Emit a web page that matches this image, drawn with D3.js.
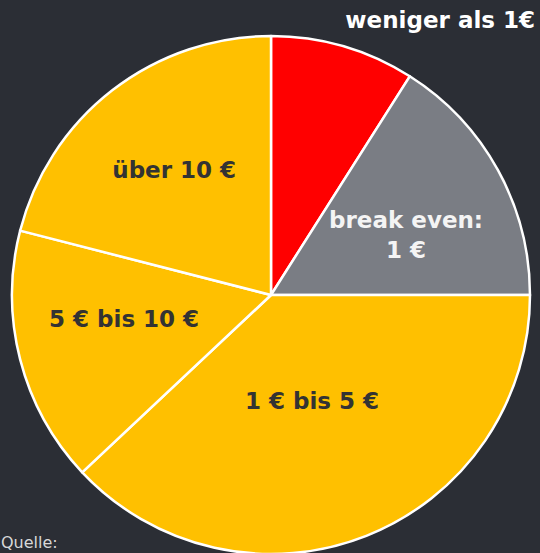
<!DOCTYPE html>
<html>
<head>
<meta charset="utf-8">
<script src="https://cdn.jsdelivr.net/npm/d3@7"></script>
<style>
  html, body { margin: 0; padding: 0; background: #2b2e35; }
  svg { display: block; }
  text { font-family: "DejaVu Sans", Verdana, sans-serif; }
</style>
</head>
<body>
<svg id="chart" width="540" height="553"></svg>
<script>
const categories = ["weniger als 1€", "break even: 1 €", "1 € bis 5 €", "5 € bis 10 €", "über 10 €"];
const values = [9, 16, 38, 16, 21];
const colors = ["#ff0000", "#7a7d84", "#ffc000", "#ffc000", "#ffc000"];
const labelLines = [[], ["break even:", "1 €"], ["1 € bis 5 €"], ["5 € bis 10 €"], ["über 10 €"]];
const labelColors = ["#ffffff", "#f4f4f4", "#333333", "#333333", "#333333"];

const svg = d3.select("#chart");
const cx = 271, cy = 295, r = 259;

const data = categories.map((c, i) => ({ cat: c, value: values[i], color: colors[i], lines: labelLines[i], tc: labelColors[i] }));

const pie = d3.pie().value(d => d.value).sort(null);
const arc = d3.arc().innerRadius(0).outerRadius(r);
const arcs = pie(data);

const g = svg.append("g").attr("transform", `translate(${cx},${cy})`);
g.selectAll("path").data(arcs).join("path")
  .attr("d", arc)
  .attr("fill", d => d.data.color)
  .attr("stroke", "#ffffff")
  .attr("stroke-width", 2.5)
  .attr("stroke-linejoin", "round");

// label placement: [radius fraction, angle offset in degrees]
const labelLayout = [null, [0.57, 5], [0.44, 0.5], [0.575, 5], [0.61, 0]];
arcs.forEach((a, i) => {
  if (!a.data.lines.length) return;
  const mid = (a.startAngle + a.endAngle) / 2 + labelLayout[i][1] * Math.PI / 180;
  const rr = r * labelLayout[i][0];
  const x = Math.sin(mid) * rr, y = -Math.cos(mid) * rr;
  const t = g.append("text")
    .attr("text-anchor", "middle")
    .attr("fill", a.data.tc)
    .attr("font-weight", "bold")
    .attr("font-size", 23);
  const n = a.data.lines.length;
  a.data.lines.forEach((ln, k) => {
    t.append("tspan").attr("x", x).attr("y", y + (k - (n - 1) / 2) * 30 + 8).text(ln);
  });
});

svg.append("text")
  .attr("x", 535).attr("y", 28)
  .attr("text-anchor", "end")
  .attr("fill", "#ffffff")
  .attr("font-weight", "bold")
  .attr("font-size", 23)
  .text(categories[0]);

svg.append("text")
  .attr("x", 1).attr("y", 548)
  .attr("fill", "#d8d8d8")
  .attr("font-size", 16)
  .text("Quelle:");
</script>
</body>
</html>
